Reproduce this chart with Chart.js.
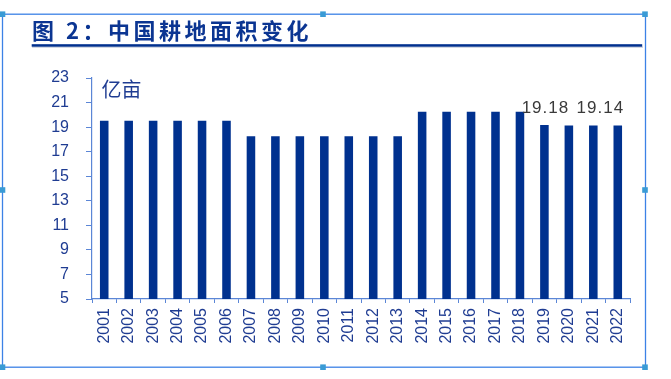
<!DOCTYPE html>
<html>
<head>
<meta charset="utf-8">
<script src="https://cdn.jsdelivr.net/npm/chart.js@4.4.1/dist/chart.umd.min.js"></script>
<style>
  html, body { margin: 0; padding: 0; background: #ffffff; }
  #c { display: block; }
</style>
</head>
<body>
<canvas id="c" width="671" height="379"></canvas>
<script>
// ---- data ----
const categories = ['2001','2002','2003','2004','2005','2006','2007','2008','2009','2010','2011',
                    '2012','2013','2014','2015','2016','2017','2018','2019','2020','2021','2022'];
const areaValues = [19.51,19.51,19.51,19.51,19.51,19.51,
                    18.26,18.26,18.26,18.26,18.26,18.26,18.26,
                    20.25,20.25,20.25,20.25,20.25,
                    19.18,19.13,19.14,19.14];
const yMin = 5, yMax = 23, yStep = 2;
const labeledIndexes = [18, 20];
const titleText = '图 2：中国耕地面积变化';
const unitText = '亿亩';

const axisColor = '#5b86d6';
const tickTextColor = '#1f3c92';
const barColor = '#00318f';

const framePlugin = {
  id: 'frameAndTitle',
  beforeDraw(chart) {
    const ctx = chart.ctx;
    ctx.save();
    ctx.fillStyle = '#ffffff';
    ctx.fillRect(0, 0, chart.width, chart.height);
    // frame
    ctx.strokeStyle = '#3c82e6';
    ctx.lineWidth = 1.3;
    ctx.strokeRect(2.5, 14.2, 643, 353);
    // title
    ctx.fillStyle = '#0b3592';
    ctx.font = 'bold 22px "Noto Sans CJK SC"';
    ctx.letterSpacing = '3.5px';
    ctx.textBaseline = 'alphabetic';
    ctx.textAlign = 'left';
    ctx.fillText(titleText, 32, 39);
    ctx.letterSpacing = '0px';
    // underline
    ctx.fillStyle = '#c9cfdd';
    ctx.fillRect(32, 46.5, 611, 1.3);
    ctx.fillStyle = '#00308e';
    ctx.fillRect(31.7, 44.2, 610.5, 2.5);
    ctx.restore();
  },
  afterDraw(chart) {
    const ctx = chart.ctx;
    ctx.save();
    ctx.fillStyle = '#3a9bd5';
    const pts = [[2.5,14.2],[323,14.2],[645,14.2],[2.5,190],[645,190],[2.5,367.2],[323,367.2],[645,367.2]];
    pts.forEach(p => ctx.fillRect(p[0]-2.8, p[1]-2.8, 5.6, 5.6));
    ctx.restore();
  }
};

const labelPlugin = {
  id: 'valueLabels',
  afterDatasetsDraw(chart, args, opts) {
    const ctx = chart.ctx;
    const meta = chart.getDatasetMeta(0);
    const area = chart.chartArea;
    ctx.save();
    // unit text
    ctx.fillStyle = tickTextColor;
    ctx.font = '20px "Noto Sans CJK SC"';
    ctx.textAlign = 'left';
    ctx.textBaseline = 'alphabetic';
    ctx.fillText(unitText, area.left + 9.5, area.top + 19);
    // value labels
    ctx.fillStyle = '#3a3a3a';
    ctx.font = '17px "Liberation Sans"';
    ctx.letterSpacing = '1px';
    ctx.textAlign = 'center';
    labeledIndexes.forEach((idx, k) => {
      const el = meta.data[idx];
      const dx = (opts.xShift && opts.xShift[k]) || 0;
      ctx.fillText(areaValues[idx].toFixed(2), el.x + dx, el.y - 12);
    });
    ctx.restore();
  }
};

new Chart(document.getElementById('c'), {
  type: 'bar',
  data: {
    labels: categories,
    datasets: [{
      data: areaValues,
      backgroundColor: barColor,
      borderWidth: 0,
      barPercentage: 0.35,
      categoryPercentage: 1.0
    }]
  },
  options: {
    responsive: false,
    animation: false,
    devicePixelRatio: 1,
    layout: { padding: { left: 32, right: 41, top: 78, bottom: 30 } },
    plugins: {
      legend: { display: false },
      tooltip: { enabled: false },
      valueLabels: { xShift: [1, 7] }
    },
    scales: {
      x: {
        afterFit(s) { s.height = 50; },
        grid: { display: true, offset: true, drawOnChartArea: false, drawTicks: true, tickLength: 4, color: axisColor, lineWidth: 1 },
        border: { display: true, color: axisColor, width: 1.2 },
        ticks: {
          autoSkip: false, minRotation: 90, maxRotation: 90, padding: 5,
          color: tickTextColor, font: { family: '"Liberation Sans"', size: 16 }
        }
      },
      y: {
        min: yMin, max: yMax,
        afterFit(s) { s.width = 60; },
        grid: { display: true, drawOnChartArea: false, drawTicks: true, tickLength: 6, color: axisColor, lineWidth: 1 },
        border: { display: true, color: axisColor, width: 1.2 },
        ticks: {
          stepSize: yStep, padding: 17,
          color: tickTextColor, font: { family: '"Liberation Sans"', size: 16 }
        }
      }
    }
  },
  plugins: [framePlugin, labelPlugin]
});
</script>
</body>
</html>
